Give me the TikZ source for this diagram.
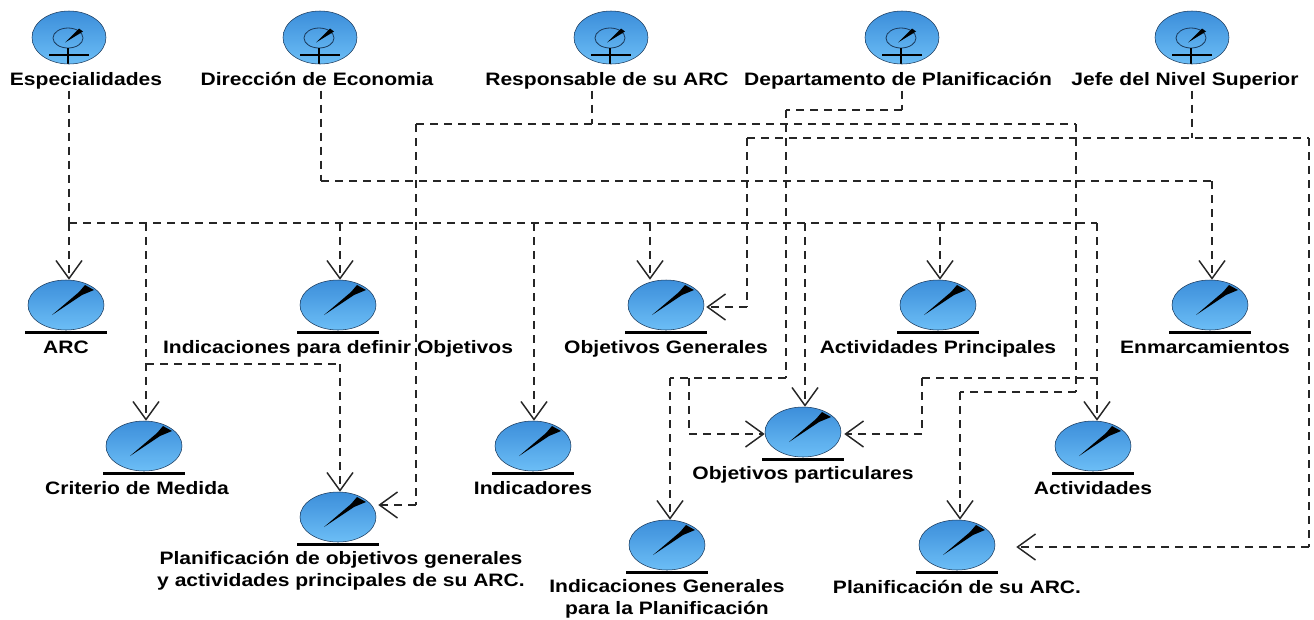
\documentclass[tikz,border=0pt]{standalone}
\usepackage{fontspec}
\setmainfont{Liberation Sans}[FakeStretch=1.17]
\usetikzlibrary{arrows.meta, positioning, shapes.geometric}
\tikzset{>={Straight Barb[length=13.5pt,width=19.5pt,line width=1.1pt]}}
\definecolor{azulalto}{HTML}{3C8EDA}
\definecolor{azulbajo}{HTML}{6CBEF6}
\definecolor{borde}{HTML}{1B3A5C}
\tikzset{
	etiqueta/.style = {font = \bfseries\fontsize{13.5}{16.5}\selectfont, align = center, inner sep = 1pt, text height = 10.5pt, text depth = 3pt},
	linea/.style = {line width = 0.9pt, dash pattern = on 6pt off 4.5pt, color = black!85},
	barra/.style = {fill = black, minimum width = 62pt, minimum height = 2.2pt, inner sep = 0pt, label distance = 0.2pt},
	globo/.style = {ellipse, draw = borde, inner sep = 0pt, top color = azulalto, bottom color = azulbajo},
	actor/.style = {globo, minimum width = 55.5pt, minimum height = 39.75pt,
		path picture = {
			\begin{scope}[shift = {(path picture bounding box.center)}]
				\draw[borde, line width = 0.6pt] (-1,0.5) ellipse (15 and 10);
				\fill[black] (-4,5) -- (10,-9) -- (14,-6) -- cycle;
				\draw[black, line width = 1.1pt] (-20,17.5) -- (20,17.5);
				\draw[black, line width = 2pt] (-1,10.5) -- (-1,28);
			\end{scope}
		}},
	entidad/.style = {globo, minimum width = 57pt, minimum height = 37.5pt, label = {[barra]below:{}},
		path picture = {
			\begin{scope}[shift = {(path picture bounding box.center)}]
				\fill[black] (-14,10) -- (13,-13) -- (19,-20) -- (28,-15) -- (16,-10) -- cycle;
			\end{scope}
		}}
}
\begin{document}
\begin{tikzpicture}[x = 0.75pt, y = -0.75pt, on grid]
		\useasboundingbox (0,0) rectangle (1314,619);
		\node (esp) [actor] at (69,37.5) {};
		\node (dir) [actor] at (320,37.5) {};
		\node (resp) [actor] at (611,37.5) {};
		\node (dpto) [actor] at (902,37.5) {};
		\node (jefe) [actor] at (1192,37.5) {};
		\node (lesp) [etiqueta] at (86,80) {Especialidades};
		\node (ldir) [etiqueta] at (317,80) {Dirección de Economia};
		\node (lresp) [etiqueta] at (607,80) {Responsable de su ARC};
		\node (ldpto) [etiqueta] at (898,80) {Departamento de Planificación};
		\node (ljefe) [etiqueta] at (1185,80) {Jefe del Nivel Superior};

		\node (arc) [entidad] at (66,305) {};
		\node (idef) [entidad, right = 204pt of arc] {};
		\node (gen) [entidad] at (666,305) {};
		\node (prin) [entidad] at (938,305) {};
		\node (enm) [entidad] at (1210,305) {};
		\node (crit) [entidad] at (144,446) {};
		\node (indi) [entidad] at (533,446) {};
		\node (acti) [entidad] at (1093,446) {};
		\node (part) [entidad] at (803,432) {};
		\node (plan) [entidad] at (338,517) {};
		\node (igen) [entidad] at (667,545) {};
		\node (parc) [entidad] at (957,545) {};

		\node (larc) [etiqueta, below = 32.25pt of arc] {ARC};
		\node (lidef) [etiqueta, below = 32.25pt of idef] {Indicaciones para definir Objetivos};
		\node (lgen) [etiqueta, below = 32.25pt of gen] {Objetivos Generales};
		\node (lprin) [etiqueta, below = 32.25pt of prin] {Actividades Principales};
		\node (lenm) [etiqueta, below = 32.25pt of enm, xshift = -3.75pt] {Enmarcamientos};
		\node (lcrit) [etiqueta, below = 32.25pt of crit, xshift = -5.25pt] {Criterio de Medida};
		\node (lindi) [etiqueta, below = 32.25pt of indi] {Indicadores};
		\node (lacti) [etiqueta, below = 32.25pt of acti] {Actividades};
		\node (lpart) [etiqueta, below = 31.5pt of part] {Objetivos particulares};
		\node (lplan) [etiqueta, below = 48pt of plan, xshift = 2.25pt] {Planificación de objetivos generales\\y actividades principales de su ARC.};
		\node (ligen) [etiqueta, below = 48.5pt of igen] {Indicaciones Generales\\para la Planificación};
		\node (lparc) [etiqueta, below = 32.25pt of parc] {Planificación de su ARC.};

		\coordinate (ja) at (69,223);
		\coordinate (jb) at (146,223);
		\coordinate (jc) at (340,223);
		\coordinate (jd) at (534,223);
		\coordinate (je) at (650,223);
		\coordinate (jf) at (805,223);
		\coordinate (jg) at (940,223);
		\coordinate (jh) at (1097,223);
		\coordinate (ca) at (146,364);
		\coordinate (cb) at (340,364);
		\coordinate (ha) at (321,181);
		\coordinate (hb) at (1212,181);
		\coordinate (ra) at (592,124);
		\coordinate (rb) at (416,124);
		\coordinate (rc) at (416,505);
		\coordinate (rd) at (1076,124);
		\coordinate (re) at (1076,392);
		\coordinate (rf) at (960,392);
		\coordinate (da) at (902,110);
		\coordinate (db) at (786,110);
		\coordinate (dc) at (786,378);
		\coordinate (dd) at (670,378);
		\coordinate (de) at (689,378);
		\coordinate (df) at (689,434);
		\coordinate (fa) at (1192,138);
		\coordinate (fb) at (747,138);
		\coordinate (fc) at (747,307);
		\coordinate (fd) at (1309,138);
		\coordinate (fe) at (1309,547);
		\coordinate (ga) at (922,378);
		\coordinate (gb) at (1097,378);
		\coordinate (gc) at (922,434);

		\path[linea]
		(ja |- lesp.south) edge (ja)
		(ja) edge (jh)
		(ha |- ldir.south) edge (ha)
		(ha) edge (hb)
		(ra |- lresp.south) edge (ra)
		(rb) edge (rd)
		(rb) edge (rc)
		(rd) edge (re)
		(re) edge (rf)
		(da |- ldpto.south) edge (da)
		(da) edge (db)
		(db) edge (dc)
		(dc) edge (dd)
		(de) edge (df)
		(fa |- ljefe.south) edge (fa)
		(fb) edge (fd)
		(fb) edge (fc)
		(fd) edge (fe)
		(ca) edge (cb)
		(ga) edge (gb)
		(ga) edge (gc);
		\path[linea, ->]
		(ja) edge (ja |- arc.north)
		(jb) edge (jb |- crit.north)
		(jc) edge (jc |- idef.north)
		(jd) edge (jd |- indi.north)
		(je) edge (je |- gen.north)
		(jf) edge (jf |- part.north)
		(jg) edge (jg |- prin.north)
		(jh) edge (jh |- acti.north)
		(cb) edge (cb |- plan.north)
		(hb) edge (hb |- enm.north)
		(rc) edge ([xshift = 1.5pt]plan.east |- rc)
		(rf) edge (rf |- parc.north)
		(dd) edge (dd |- igen.north)
		(df) edge (part.west |- df)
		(fc) edge ([xshift = 1.5pt]gen.east |- fc)
		(fe) edge ([xshift = 15.75pt]parc.east |- fe)
		(gc) edge ([xshift = 2.25pt]part.east |- gc);
		\end{tikzpicture}
\end{document}
